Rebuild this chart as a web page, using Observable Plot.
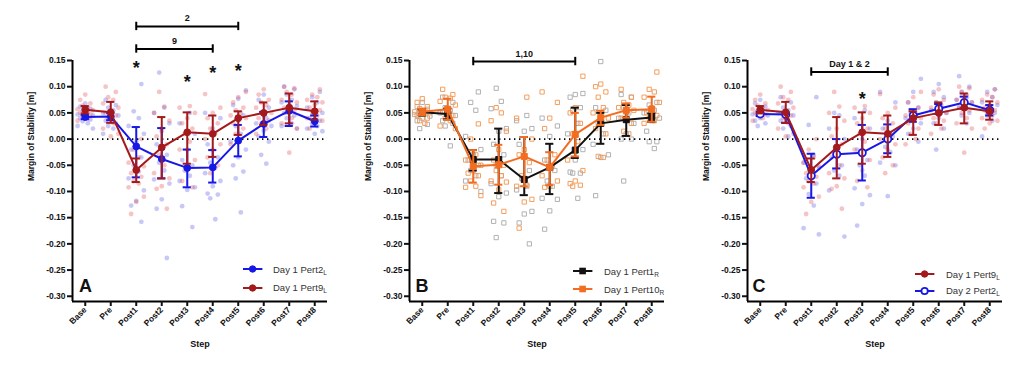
<!DOCTYPE html>
<html><head><meta charset="utf-8">
<script src="https://cdn.jsdelivr.net/npm/d3@7"></script>
<script src="https://cdn.jsdelivr.net/npm/@observablehq/plot@0.6"></script>
<style>
body{margin:0;background:#fff;font-family:"Liberation Sans",Arial,sans-serif;}
#wrap{position:relative;width:1024px;height:377px;overflow:hidden;background:#fff;}
.panel{position:absolute;top:0;}
.leg{position:absolute;font-size:9.5px;color:#333;white-space:nowrap;line-height:1;}
.leg sub{font-size:6.5px;vertical-align:-2px;}
</style></head><body><div id="wrap"></div>
<script>
const steps = ["Base","Pre","Post1","Post2","Post3","Post4","Post5","Post6","Post7","Post8"];
const yTicks = [0.15,0.10,0.05,0.00,-0.05,-0.10,-0.15,-0.20,-0.25,-0.30];

// Day 1 Pert2_L (panel A, blue)
const d1p2L_mean = [0.042,0.043,-0.014,-0.038,-0.055,-0.054,-0.003,0.029,0.054,0.034];
const d1p2L_lo   = [0.038,0.036,-0.073,-0.075,-0.092,-0.083,-0.033,0.004,0.025,0.024];
const d1p2L_hi   = [0.046,0.050,0.023,0.021,-0.020,-0.021,0.027,0.052,0.072,0.045];
const d1p2L_pts = [
 [0.068,0.062,0.058,0.055,0.05,0.047,0.045,0.043,0.04,0.037,0.034,0.03,0.025,0.02],
 [0.075,0.065,0.06,0.055,0.05,0.045,0.04,0.035,0.03,0.025,0.02,0.01],
 [0.105,0.053,0.04,0.025,0.01,-0.005,-0.02,-0.035,-0.05,-0.062,-0.075,-0.098,-0.118,-0.127,-0.158],
 [0.127,0.06,0.05,0.03,0.015,-0.01,-0.03,-0.045,-0.06,-0.077,-0.085,-0.115,-0.133,-0.227],
 [0.05,0.03,0.01,-0.02,-0.04,-0.05,-0.06,-0.07,-0.08,-0.092,-0.097,-0.128,-0.168],
 [0.05,0.04,0.02,-0.01,-0.035,-0.045,-0.055,-0.065,-0.08,-0.09,-0.104,-0.106,-0.113,-0.153],
 [0.093,0.077,0.065,0.045,0.025,0.01,-0.005,-0.02,-0.035,-0.05,-0.062,-0.075,-0.14],
 [0.085,0.075,0.06,0.05,0.04,0.03,0.025,0.016,0.005,-0.005,-0.03,-0.047],
 [0.1,0.095,0.085,0.075,0.07,0.063,0.058,0.05,0.045,0.04,0.03,0.025,0.02],
 [0.09,0.08,0.07,0.06,0.05,0.045,0.04,0.035,0.03,0.025,0.02,0.015,0.01]
];

// Day 1 Pert9_L (panels A and C, dark red)
const d1p9L_mean = [0.056,0.051,-0.059,-0.016,0.013,0.010,0.040,0.050,0.060,0.053];
const d1p9L_lo   = [0.049,0.031,-0.082,-0.075,-0.047,-0.034,0.008,0.027,0.030,0.037];
const d1p9L_hi   = [0.063,0.071,-0.037,0.042,0.051,0.045,0.053,0.070,0.087,0.072];
const d1p9L_pts = [
 [0.085,0.075,0.068,0.064,0.06,0.057,0.055,0.052,0.05,0.047,0.045,0.04,0.035],
 [0.1,0.09,0.08,0.075,0.068,0.06,0.055,0.05,0.045,0.04,0.03,0.02,0.01,0.005],
 [0.0,-0.02,-0.035,-0.045,-0.052,-0.058,-0.065,-0.072,-0.08,-0.085,-0.092,-0.11,-0.12,-0.143],
 [0.09,0.062,0.05,0.035,0.02,0.005,-0.01,-0.03,-0.05,-0.065,-0.075,-0.09,-0.095,-0.133],
 [0.063,0.06,0.05,0.04,0.03,0.02,0.01,-0.005,-0.02,-0.04,-0.06,-0.08,-0.092],
 [0.086,0.06,0.05,0.04,0.03,0.02,0.01,0.0,-0.01,-0.02,-0.035,-0.05,-0.065],
 [0.09,0.08,0.07,0.06,0.055,0.05,0.045,0.04,0.035,0.03,0.02,0.01,0.0,-0.01],
 [0.095,0.085,0.075,0.07,0.065,0.06,0.05,0.045,0.04,0.035,0.03,0.02,0.01],
 [0.1,0.097,0.09,0.085,0.075,0.07,0.065,0.06,0.055,0.05,0.04,0.03,0.02,-0.026],
 [0.095,0.085,0.08,0.075,0.07,0.065,0.06,0.055,0.05,0.045,0.04,0.035,0.03,0.02]
];

// Day 1 Pert1_R (panel B, black)
const d1p1R_mean = [0.051,0.048,-0.039,-0.039,-0.077,-0.054,-0.021,0.030,0.037,0.041];
const d1p1R_lo   = [0.045,0.038,-0.060,-0.103,-0.107,-0.105,-0.036,-0.009,0.006,0.033];
const d1p1R_hi   = [0.057,0.058,-0.021,0.020,0.004,-0.009,0.060,0.050,0.065,0.049];
const d1p1R_pts = [
 [0.07,0.062,0.057,0.053,0.05,0.047,0.044,0.04,0.035,0.028,0.02],
 [0.08,0.07,0.06,0.055,0.05,0.045,0.04,0.035,0.03,0.025,-0.013],
 [0.09,0.07,0.055,0.005,-0.02,-0.03,-0.04,-0.05,-0.06,-0.07,-0.08,-0.1],
 [0.097,0.072,0.058,0.02,0.015,-0.01,-0.03,-0.05,-0.07,-0.085,-0.103,-0.11,-0.157,-0.16,-0.188],
 [0.045,0.035,0.02,0.015,-0.01,-0.06,-0.075,-0.09,-0.097,-0.138,-0.143,-0.16,-0.2],
 [0.04,0.025,0.005,-0.04,-0.06,-0.08,-0.09,-0.113,-0.115,-0.137,-0.172],
 [0.087,0.085,0.08,0.06,0.055,0.03,0.01,-0.02,-0.04,-0.063,-0.065,-0.065,-0.113],
 [0.148,0.06,0.055,0.03,0.01,-0.01,-0.03,-0.035,-0.108],
 [0.085,0.08,0.06,0.05,0.04,0.03,0.01,0.0,0.0,-0.08],
 [0.07,0.065,0.055,0.05,0.04,0.035,0.015,-0.005,-0.005,-0.018]
];

// Day 1 Pert10_R (panel B, orange)
const d1p10R_mean = [0.052,0.057,-0.052,-0.049,-0.033,-0.054,0.009,0.041,0.055,0.057];
const d1p10R_lo   = [0.046,0.037,-0.083,-0.087,-0.090,-0.088,-0.033,0.027,0.041,0.033];
const d1p10R_hi   = [0.058,0.077,-0.021,-0.011,0.004,-0.025,0.050,0.054,0.068,0.081];
const d1p10R_pts = [
 [0.077,0.07,0.062,0.058,0.055,0.052,0.05,0.048,0.045,0.04,0.035,0.03],
 [0.095,0.085,0.08,0.078,0.072,0.065,0.058,0.052,0.045,0.04,0.035,0.025,0.02],
 [0.029,0.0,-0.03,-0.04,-0.05,-0.06,-0.065,-0.07,-0.08,-0.09,-0.092,-0.108],
 [0.06,0.05,0.035,0.015,-0.02,-0.04,-0.05,-0.06,-0.07,-0.08,-0.082,-0.097,-0.122,-0.138],
 [0.08,0.04,0.0,-0.02,-0.03,-0.045,-0.07,-0.088,-0.09,-0.115,-0.12,-0.17],
 [0.09,0.07,0.04,0.02,-0.03,-0.04,-0.05,-0.07,-0.08,-0.09,-0.092],
 [0.12,0.06,0.05,0.03,0.01,-0.005,-0.04,-0.06,-0.08,-0.085,-0.088,-0.09],
 [0.105,0.1,0.09,0.08,0.06,0.05,0.04,0.03,0.02,0.01,-0.033,-0.035],
 [0.095,0.08,0.07,0.065,0.06,0.055,0.05,0.04,0.03,0.015,0.01],
 [0.128,0.095,0.09,0.08,0.07,0.06,0.05,0.045,0.04,0.035,0.03]
];

// Day 2 Pert2_L (panel C, blue open)
const d2p2L_mean = [0.048,0.047,-0.070,-0.029,-0.026,0.000,0.045,0.058,0.070,0.055];
const d2p2L_lo   = [0.044,0.031,-0.112,-0.056,-0.079,-0.027,0.033,0.048,0.058,0.045];
const d2p2L_hi   = [0.052,0.052,-0.028,0.000,0.027,0.028,0.057,0.067,0.081,0.065];
const d2p2L_pts = [
 [0.075,0.068,0.062,0.055,0.05,0.047,0.045,0.04,0.035,0.03,0.025],
 [0.08,0.07,0.06,0.055,0.05,0.045,0.04,0.035,0.025,0.02,0.005],
 [0.08,0.027,-0.03,-0.045,-0.055,-0.065,-0.075,-0.085,-0.105,-0.127,-0.17,-0.182],
 [0.05,0.045,0.02,0.0,-0.02,-0.035,-0.05,-0.06,-0.07,-0.098,-0.186],
 [0.055,0.04,0.02,0.0,-0.02,-0.04,-0.05,-0.07,-0.094,-0.107,-0.124,-0.165],
 [0.09,0.07,0.035,0.02,0.005,-0.015,-0.025,-0.045,-0.05,-0.109],
 [0.115,0.09,0.07,0.06,0.05,0.045,0.04,0.03,0.02,0.01,-0.005],
 [0.105,0.09,0.08,0.07,0.06,0.055,0.05,0.04,0.03,0.02,-0.02],
 [0.12,0.1,0.09,0.08,0.075,0.07,0.065,0.06,0.05,0.045,0.03],
 [0.095,0.09,0.08,0.07,0.065,0.06,0.055,0.05,0.045,0.035,0.005]
];

// Significance annotations
const bracketA_from = ["Post1","Post1"], bracketA_to = ["Post5","Post4"], bracketA_y = [0.215,0.172], bracketA_text = ["2","9"];
const starA_steps = ["Post1","Post3","Post4","Post5"], starA_y = [0.142,0.116,0.134,0.137];
const bracketB_from = ["Post1"], bracketB_to = ["Post5"], bracketB_y = [0.148], bracketB_text = ["1,10"];
const bracketC_from = ["Post1"], bracketC_to = ["Post4"], bracketC_y = [0.128], bracketC_text = ["Day 1 & 2"];
const starC_steps = ["Post3"], starC_y = [0.084];

const FONT = "Liberation Sans, Arial, sans-serif";
const idx = s => steps.indexOf(s);
const jit = [0, -0.2, 0.2, -0.1, 0.1, -0.3, 0.3];
const ptsRows = pts => pts.flatMap((arr, i) => arr.map((v, k) => ({x: i + jit[(k + i) % jit.length], y: v})));
const statRows = (m, lo, hi) => steps.map((s, i) => ({x: i, m: m[i], lo: lo[i], hi: hi[i]}));

function seriesMarks(s) {
  const rows = statRows(s.mean, s.lo, s.hi);
  const cap = 0.16, c = s.color;
  return [
    Plot.line(rows, {x: "x", y: "m", stroke: c, strokeWidth: 2}),
    Plot.ruleX(rows, {x: "x", y1: "lo", y2: "hi", stroke: c, strokeWidth: 2}),
    Plot.ruleY(rows, {y: "lo", x1: d => d.x - cap, x2: d => d.x + cap, stroke: c, strokeWidth: 2}),
    Plot.ruleY(rows, {y: "hi", x1: d => d.x - cap, x2: d => d.x + cap, stroke: c, strokeWidth: 2}),
    Plot.dot(rows, {x: "x", y: "m", symbol: s.symbol, r: s.open ? 3.6 : 3.4,
      fill: s.open ? "white" : c, stroke: c, strokeWidth: s.open ? 1.8 : 1})
  ];
}

function makePanel(cfg) {
  const marks = [];
  for (const s of cfg.series) {
    marks.push(Plot.dot(ptsRows(s.pts), {x: "x", y: "y", symbol: s.ptSymbol, r: 2.4,
      fill: s.ptFill, fillOpacity: s.ptFillOpacity, stroke: s.ptStroke, strokeOpacity: s.ptStrokeOpacity, strokeWidth: 1}));
  }
  marks.push(Plot.ruleY([0], {x1: -0.5, x2: 9.5, stroke: "#000", strokeWidth: 1.6, strokeDasharray: "1.4 3.6"}));
  for (const s of cfg.series) marks.push(...seriesMarks(s));
  // axes
  marks.push(Plot.ruleX([-0.5], {y1: -0.31, y2: 0.15, stroke: "#000", strokeWidth: 2}));
  marks.push(Plot.ruleY([-0.31], {x1: -0.5, x2: 9.5, stroke: "#000", strokeWidth: 2}));
  marks.push(Plot.axisY({ticks: yTicks, tickFormat: d => d.toFixed(2), tickSize: 5, tickPadding: 2, strokeWidth: 2, label: null, fontSize: 8.5}));
  marks.push(Plot.axisX({ticks: d3.range(steps.length), tickFormat: i => steps[i], tickRotate: -45, tickSize: 5, tickPadding: 2, strokeWidth: 2, label: null, fontSize: 8.5}));
  marks.push(Plot.text(["Margin of Stability [m]"], {text: d => d, frameAnchor: "left", rotate: -90, dx: -41, fontSize: 8.5}));
  marks.push(Plot.text(["Step"], {text: d => d, frameAnchor: "bottom", dy: 45, fontSize: 9}));
  marks.push(Plot.text([cfg.letter], {text: d => d, frameAnchor: "bottom-left", textAnchor: "start", lineAnchor: "bottom", dx: cfg.letterDx, dy: -10, fontSize: 18}));
  // brackets
  const br = cfg.bFrom.map((f, i) => ({x1: idx(f), x2: idx(cfg.bTo[i]), y: cfg.bY[i], t: cfg.bText[i]}));
  const ends = br.flatMap(b => [{x: b.x1, y: b.y}, {x: b.x2, y: b.y}]);
  marks.push(Plot.ruleY(br, {y: "y", x1: "x1", x2: "x2", stroke: "#000", strokeWidth: 2}));
  marks.push(Plot.ruleX(ends, {x: "x", y1: d => d.y - 0.008, y2: d => d.y + 0.008, stroke: "#000", strokeWidth: 2}));
  marks.push(Plot.text(br, {x: d => (d.x1 + d.x2) / 2, y: "y", text: "t", lineAnchor: "bottom", dy: -5, fontSize: 9}));
  const st = cfg.sSteps.map((s, i) => ({x: idx(s), y: cfg.sY[i]}));
  marks.push(Plot.text(st, {x: "x", y: "y", text: () => "*", fontSize: 18, dy: 4}));
  return Plot.plot({
    width: 340, height: 377, marginLeft: 72, marginRight: 13, marginTop: 60, marginBottom: 76,
    x: {domain: [-0.5, 9.5]}, y: {domain: [-0.31, 0.15]},
    style: {fontFamily: FONT, fontWeight: "bold", fontSize: "8.5px", color: "#111", background: "transparent", overflow: "visible"},
    marks
  });
}

const wrap = document.getElementById("wrap");
function place(el, left) { el.classList.add("panel"); el.style.left = left + "px"; wrap.appendChild(el); }

function legend(x, rows) {
  rows.forEach(r => {
    const d = document.createElement("div");
    d.className = "leg";
    d.style.left = x + "px"; d.style.top = (r.y - 6) + "px";
    const mk = r.shape === "square"
      ? `<rect x="6.3" y="2.7" width="6.6" height="6.6" fill="${r.color}"/>`
      : `<circle cx="9.6" cy="6" r="${r.open ? 3.2 : 3.2}" fill="${r.open ? "#fff" : r.color}" stroke="${r.color}" stroke-width="${r.open ? 1.8 : 1}"/>`;
    d.innerHTML = `<svg width="20" height="12" style="position:absolute;left:0;top:0;overflow:visible"><line x1="0" x2="19.4" y1="6" y2="6" stroke="${r.color}" stroke-width="2"/>${mk}</svg>` +
      `<span style="position:absolute;left:${r.tx}px;top:1.5px">${r.label}<sub>${r.sub}</sub></span>`;
    wrap.appendChild(d);
  });
}

const BLUE = "#1717e6", RED = "#a3191c", BLACK = "#111111", ORANGE = "#f26d21";

place(makePanel({
  letter: "A", letterDx: 6.5,
  series: [
    {mean: d1p2L_mean, lo: d1p2L_lo, hi: d1p2L_hi, pts: d1p2L_pts, color: BLUE, symbol: "circle", ptSymbol: "circle", ptFill: "#4a4ae8", ptFillOpacity: 0.3, ptStroke: "none"},
    {mean: d1p9L_mean, lo: d1p9L_lo, hi: d1p9L_hi, pts: d1p9L_pts, color: RED, symbol: "circle", ptSymbol: "circle", ptFill: "#e03a3a", ptFillOpacity: 0.3, ptStroke: "none"}
  ],
  bFrom: bracketA_from, bTo: bracketA_to, bY: bracketA_y, bText: bracketA_text,
  sSteps: starA_steps, sY: starA_y
}), 0);

place(makePanel({
  letter: "B", letterDx: 6,
  series: [
    {mean: d1p1R_mean, lo: d1p1R_lo, hi: d1p1R_hi, pts: d1p1R_pts, color: BLACK, symbol: "square", ptSymbol: "square", ptFill: "none", ptStroke: "#aaaaaa", ptStrokeOpacity: 0.9},
    {mean: d1p10R_mean, lo: d1p10R_lo, hi: d1p10R_hi, pts: d1p10R_pts, color: ORANGE, symbol: "square", ptSymbol: "square", ptFill: "none", ptStroke: "#f39a55", ptStrokeOpacity: 0.95}
  ],
  bFrom: bracketB_from, bTo: bracketB_to, bY: bracketB_y, bText: bracketB_text,
  sSteps: [], sY: []
}), 337);

place(makePanel({
  letter: "C", letterDx: 5,
  series: [
    {mean: d2p2L_mean, lo: d2p2L_lo, hi: d2p2L_hi, pts: d2p2L_pts, color: BLUE, symbol: "circle", open: true, ptSymbol: "circle", ptFill: "#4a4ae8", ptFillOpacity: 0.3, ptStroke: "none"},
    {mean: d1p9L_mean, lo: d1p9L_lo, hi: d1p9L_hi, pts: d1p9L_pts, color: RED, symbol: "circle", ptSymbol: "circle", ptFill: "#e03a3a", ptFillOpacity: 0.3, ptStroke: "none"}
  ],
  bFrom: bracketC_from, bTo: bracketC_to, bY: bracketC_y, bText: bracketC_text,
  sSteps: starC_steps, sY: starC_y
}), 675);

legend(243, [
  {y: 269.3, color: BLUE, shape: "circle", label: "Day 1 Pert2", sub: "L", tx: 30},
  {y: 287.7, color: RED, shape: "circle", label: "Day 1 Pert9", sub: "L", tx: 30}
]);
legend(573.3, [
  {y: 271, color: BLACK, shape: "square", label: "Day 1 Pert1", sub: "R", tx: 30.7},
  {y: 289.3, color: ORANGE, shape: "square", label: "Day 1 Pert10", sub: "R", tx: 30.7}
]);
legend(915.3, [
  {y: 274.3, color: RED, shape: "circle", label: "Day 1 Pert9", sub: "L", tx: 30.7},
  {y: 290.7, color: BLUE, shape: "circle", open: true, label: "Day 2 Pert2", sub: "L", tx: 30.7}
]);
</script></body></html>
